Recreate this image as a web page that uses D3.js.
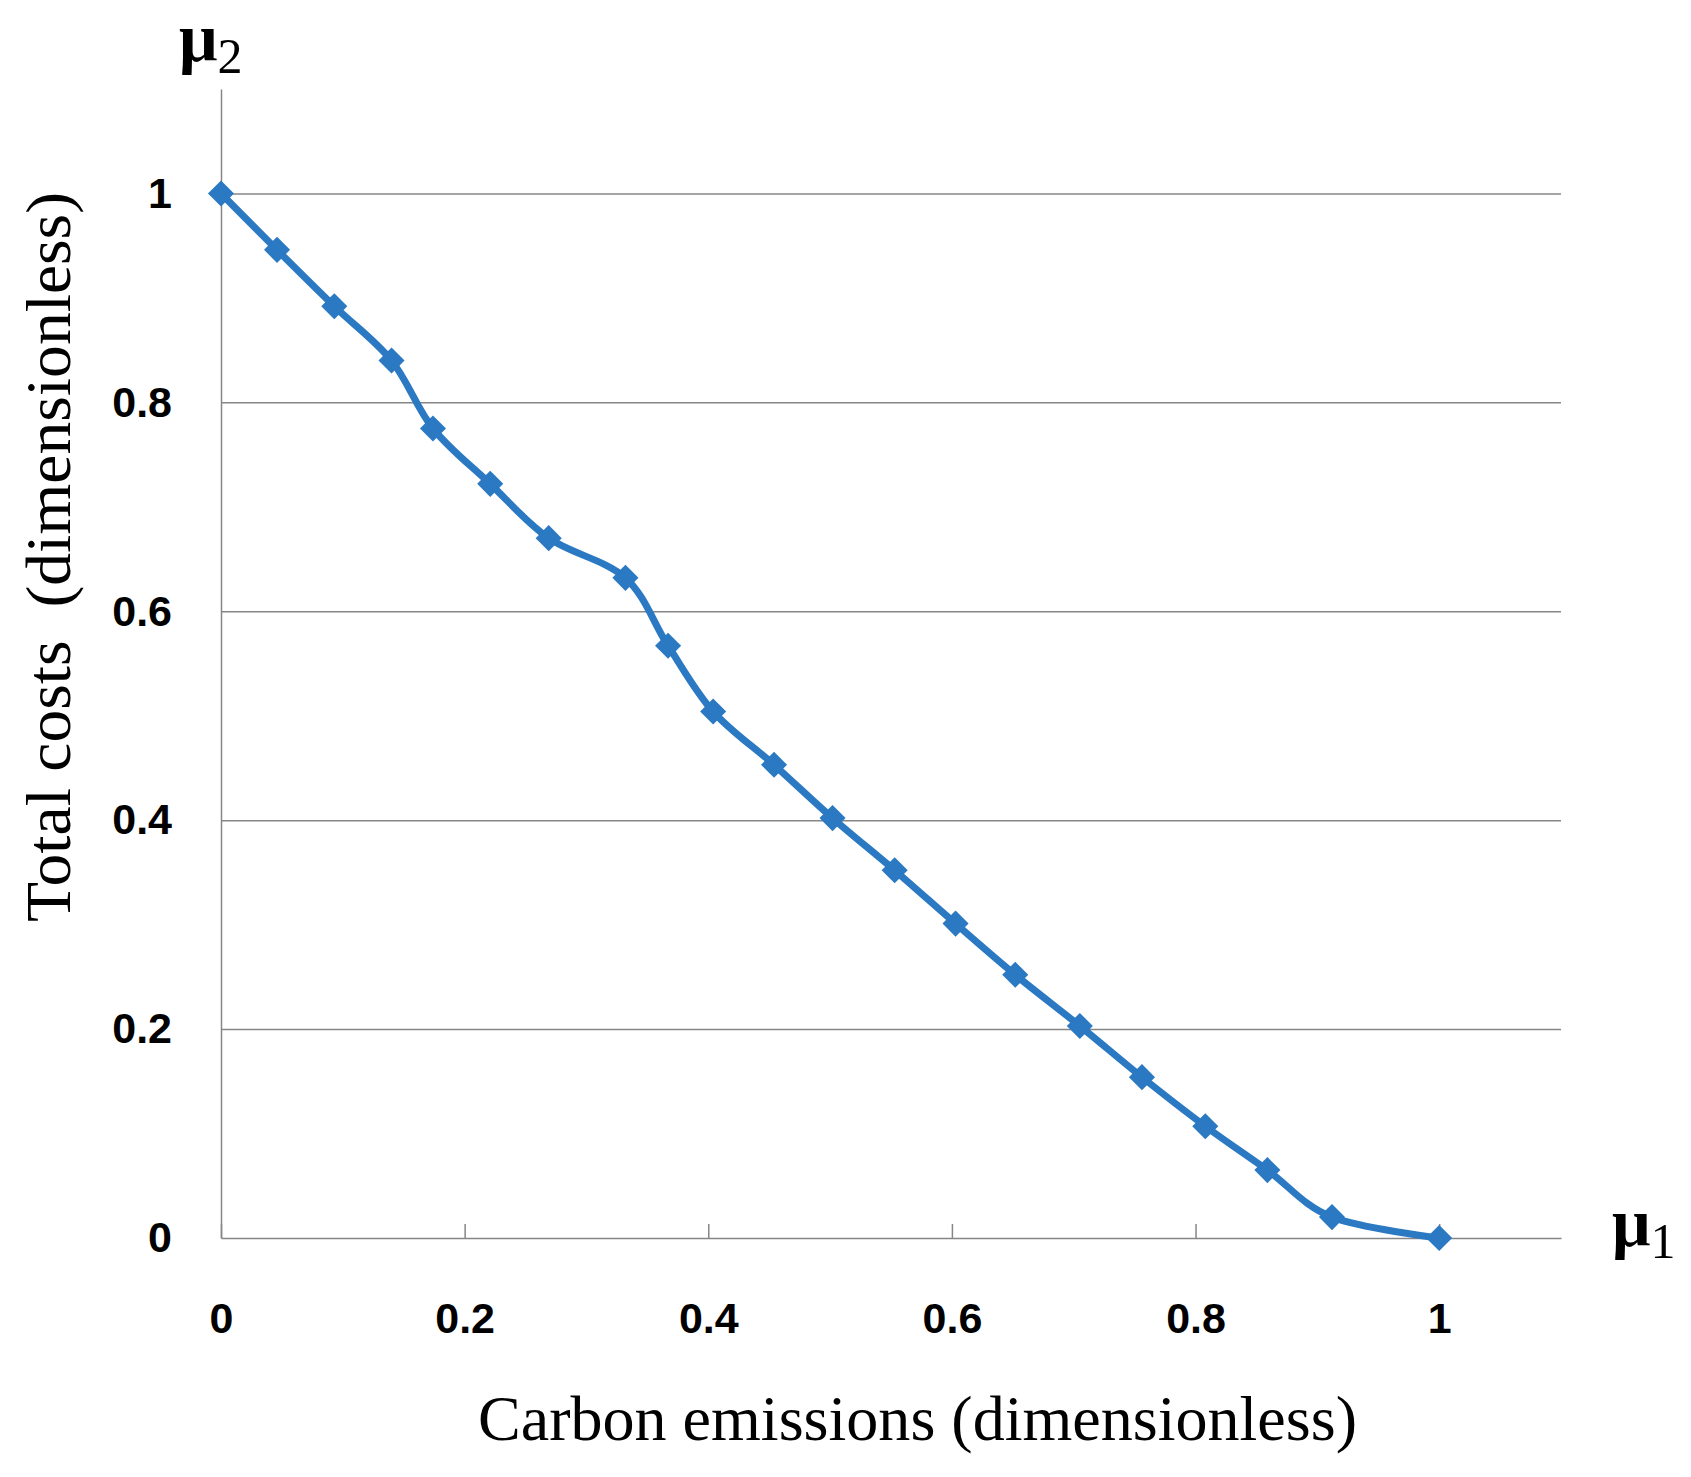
<!DOCTYPE html>
<html>
<head>
<meta charset="utf-8">
<script src="https://cdn.jsdelivr.net/npm/d3@7"></script>
<style>
  body { margin: 0; background: #fff; }
  svg { display: block; }
  .tick text { font-family: "Liberation Sans", Arial, sans-serif; font-weight: bold; font-size: 43px; fill: #000; }
  .title { font-family: "Liberation Serif", "Times New Roman", serif; font-size: 64px; fill: #000; white-space: pre; }
  .mu { font-family: "Liberation Serif", "Times New Roman", serif; fill: #000; }
</style>
</head>
<body>
<svg id="chart" width="1691" height="1477"></svg>
<script>
// Pareto front: carbon emissions (mu1) vs total costs (mu2)
const mu1 = [0, 0.046, 0.093, 0.140, 0.174, 0.221, 0.269, 0.332, 0.367, 0.404, 0.454,
             0.502, 0.553, 0.603, 0.652, 0.705, 0.756, 0.808, 0.859, 0.912, 1];
const mu2 = [1, 0.946, 0.892, 0.840, 0.775, 0.722, 0.670, 0.632, 0.567, 0.504, 0.453,
             0.402, 0.352, 0.301, 0.252, 0.203, 0.154, 0.107, 0.065, 0.020, 0];

const xTicks = [0, 0.2, 0.4, 0.6, 0.8, 1];
const yTicks = [0, 0.2, 0.4, 0.6, 0.8, 1];
const xTitle = "Carbon emissions (dimensionless)";
const yTitle = "Total costs  (dimensionless)";

const svg = d3.select("#chart");

// plot area
const plotLeft = 221, plotRight = 1561, plotTop = 89, plotBottom = 1238;
const grey = "#868686";
const blue = "#2a79c2";

let x = d3.scaleLinear().domain([0, 1.1]).range([plotLeft, plotRight]);
let y = d3.scaleLinear().domain([0, 1.1]).range([plotBottom, plotTop]);

// horizontal grid lines
svg.append("g")
    .attr("transform", `translate(${plotLeft},0)`)
    .call(d3.axisLeft(y).tickValues(yTicks.filter(d => d > 0)).tickSize(-(plotRight - plotLeft)).tickFormat(""))
    .call(g => g.select(".domain").remove())
    .call(g => g.selectAll("line").attr("stroke", grey).attr("stroke-width", 1.5));

// y axis: line plus labels
svg.append("g")
    .attr("transform", `translate(${plotLeft},0)`)
    .call(d3.axisLeft(y).tickValues(yTicks).tickSize(0).tickPadding(49).tickFormat(d3.format("")))
    .call(g => g.select(".domain").attr("stroke", grey).attr("stroke-width", 1.5));

// x axis: ticks point up into the plot
svg.append("g")
    .attr("transform", `translate(0,${plotBottom})`)
    .call(d3.axisBottom(x).tickValues(xTicks).tickSizeInner(-14).tickSizeOuter(0)
        .tickPadding(64).tickFormat(d3.format("")))
    .call(g => g.select(".domain").attr("stroke", grey).attr("stroke-width", 1.5))
    .call(g => g.selectAll(".tick line").attr("stroke", grey).attr("stroke-width", 1.5));

// series
let pts = mu1.map((v, i) => [v, mu2[i]]);

let line = d3.line()
    .x(d => x(d[0]))
    .y(d => y(d[1]))
    .curve(d3.curveCatmullRom.alpha(0));

svg.append("path")
    .datum(pts)
    .attr("fill", "none")
    .attr("stroke", blue)
    .attr("stroke-width", 7)
    .attr("stroke-linejoin", "round")
    .attr("d", line);

svg.append("g")
    .selectAll("path")
    .data(pts)
    .enter().append("path")
    .attr("transform", d => `translate(${x(d[0])},${y(d[1])}) rotate(45)`)
    .attr("d", d3.symbol(d3.symbolSquare, 340))
    .attr("fill", blue);

// titles
svg.append("text")
    .attr("class", "title")
    .attr("x", (478 + 1357) / 2)
    .attr("y", 1440)
    .attr("text-anchor", "middle")
    .attr("textLength", 879)
    .attr("lengthAdjust", "spacingAndGlyphs")
    .text(xTitle);

svg.append("text")
    .attr("class", "title")
    .attr("transform", "translate(70,557) rotate(-90)")
    .attr("text-anchor", "middle")
    .attr("textLength", 730)
    .attr("lengthAdjust", "spacingAndGlyphs")
    .text(yTitle);

// mu labels at axis ends
function muLabel(px, py, sub) {
    let t = svg.append("text").attr("class", "mu").attr("x", px).attr("y", py);
    t.append("tspan").attr("font-size", 68).attr("font-weight", "bold").text("\u03bc");
    t.append("tspan").attr("font-size", 50).attr("dy", 12).text(sub);
}
muLabel(179, 61, "2");
muLabel(1612, 1246, "1");
</script>
</body>
</html>
